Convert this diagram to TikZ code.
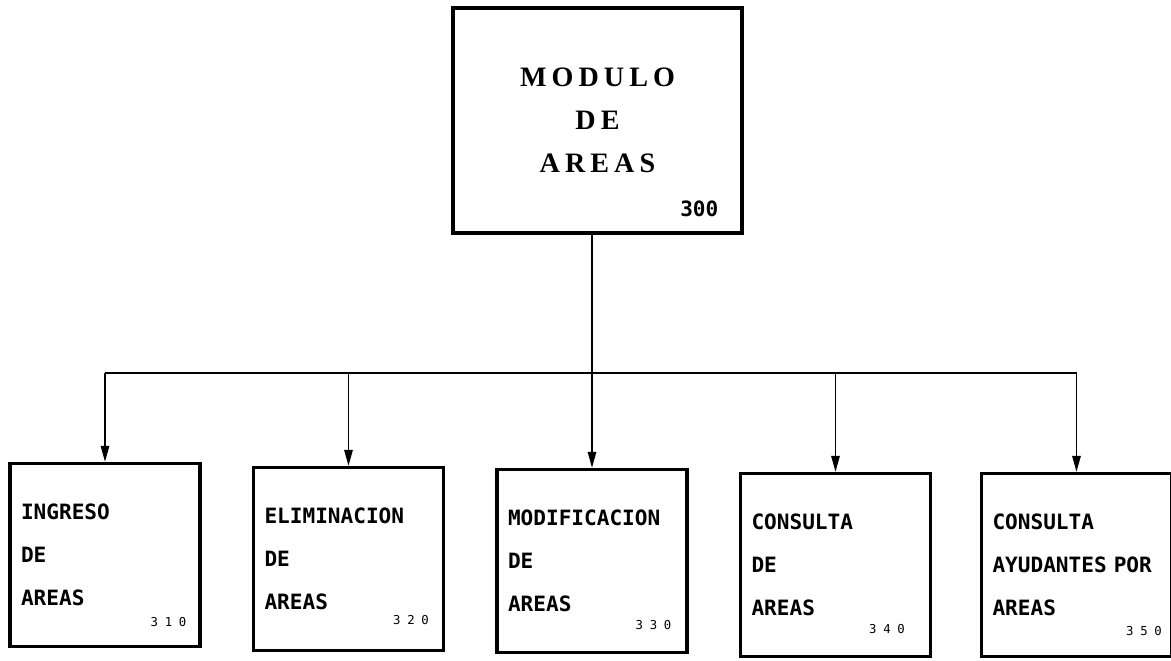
\documentclass[tikz,border=0pt]{standalone}
\usepackage{fontspec}
\newfontfamily\topfont{Liberation Serif}[LetterSpace=18]
\newfontfamily\boxfont{DejaVu Sans Mono}
\newfontfamily\numfont{DejaVu Sans Mono}[LetterSpace=55]
\usetikzlibrary{arrows.meta, positioning}

\begin{document}
\begin{tikzpicture}[
    x=0.02cm, y=-0.02cm,
    topbox/.style={draw, line width=2pt, minimum width=5.78cm, minimum height=4.5cm, align=center, font=\topfont\bfseries\fontsize{16pt}{24.5pt}\selectfont},
    modbox/.style={draw, line width=2pt, minimum width=3.8cm, minimum height=3.66cm, align=left, text width=3.36cm, inner xsep=0.22cm, font=\boxfont\bfseries\fontsize{12pt}{24.5pt}\selectfont},
    code/.style={font=\numfont\fontsize{7pt}{8pt}\selectfont, anchor=base east, inner sep=0pt},
    link/.style={line width=0.8pt},
    arr/.style={link, -{Triangle[length=9pt, width=4.8pt]}},
]
\useasboundingbox (0,0) rectangle (1171,660);

% Main module
\node[topbox] (m300) at (597.5,120.5) {MODULO\\DE\\AREAS};
\node[code, font=\boxfont\bfseries\fontsize{12pt}{14pt}\selectfont] (n300) at ([shift={(-25,-18)}]m300.south east) {300};

% Sub modules
\node[modbox] (m310) at (105,555) {INGRESO\\DE\\AREAS};
\node[modbox] (m320) at (348.5,559) {ELIMINACION\\DE\\AREAS};
\node[modbox] (m330) at (592,561) {MODIFICACION\\DE\\AREAS};
\node[modbox] (m340) at (835.5,565) {CONSULTA\\DE\\AREAS};
\node[modbox, minimum width=3.7cm] (m350) at (1076.5,565) {CONSULTA\\AYUDANTES POR\\AREAS};

% Codes
\node[code] (n310) at ([shift={(-15,-22)}]m310.south east) {310};
\node[code] (n320) at ([shift={(-16,-28)}]m320.south east) {320};
\node[code] (n330) at ([shift={(-17,-25)}]m330.south east) {330};
\node[code] (n340) at ([shift={(-27,-25)}]m340.south east) {340};
\node[code] (n350) at ([shift={(-11,-23)}]m350.south east) {350};

% Links
\coordinate (bus) at (592,373);
\draw[link] (m310.north |- bus) -- (m350.north |- bus);
\draw[arr] (m300.south -| m330.north) -- (m330.north);
\foreach \m in {m310,m320,m340,m350} \draw[arr] (\m.north |- bus) -- (\m.north);
\end{tikzpicture}
\end{document}
